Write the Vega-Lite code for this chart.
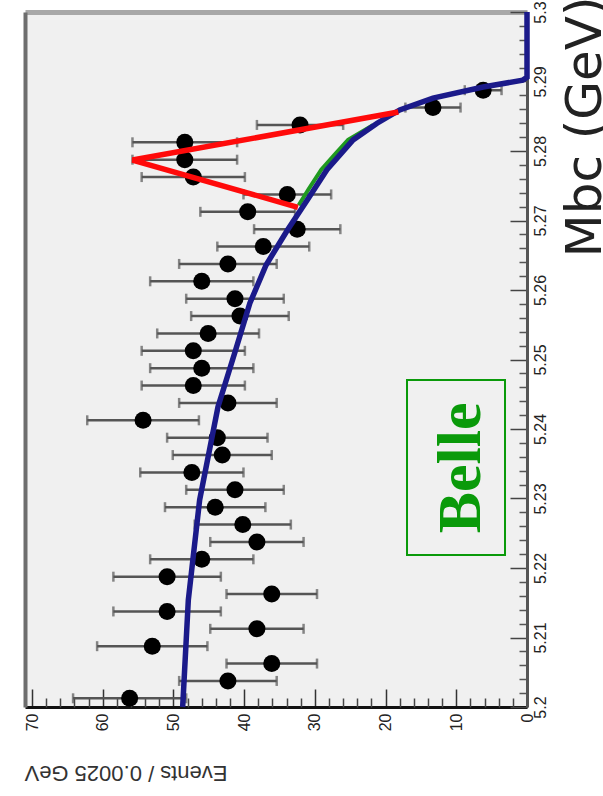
{
  "$schema": "https://vega.github.io/schema/vega-lite/v6.json",
  "width": 502,
  "height": 695,
  "autosize": {"type": "none"},
  "padding": {"left": 25, "top": 12, "right": 76, "bottom": 89},
  "background": "#ffffff",
  "config": {
    "view": {"stroke": null, "fill": "#f0f0f0"},
    "axis": {"labelFont": "Liberation Sans", "titleFont": "Liberation Sans", "grid": false}
  },
  "datasets": {
    "bins": [
      {"m": 5.20125, "n": 56.2, "err": 8.0},
      {"m": 5.20375, "n": 42.3, "err": 6.9},
      {"m": 5.20625, "n": 36.1, "err": 6.4},
      {"m": 5.20875, "n": 53.0, "err": 7.8},
      {"m": 5.21125, "n": 38.2, "err": 6.6},
      {"m": 5.21375, "n": 50.9, "err": 7.6},
      {"m": 5.21625, "n": 36.1, "err": 6.4},
      {"m": 5.21875, "n": 50.9, "err": 7.6},
      {"m": 5.22125, "n": 46.0, "err": 7.3},
      {"m": 5.22375, "n": 38.2, "err": 6.6},
      {"m": 5.22625, "n": 40.2, "err": 6.8},
      {"m": 5.22875, "n": 44.1, "err": 7.1},
      {"m": 5.23125, "n": 41.3, "err": 6.9},
      {"m": 5.23375, "n": 47.4, "err": 7.3},
      {"m": 5.23625, "n": 43.1, "err": 7.0},
      {"m": 5.23875, "n": 43.8, "err": 7.1},
      {"m": 5.24125, "n": 54.3, "err": 7.9},
      {"m": 5.24375, "n": 42.3, "err": 6.9},
      {"m": 5.24625, "n": 47.2, "err": 7.3},
      {"m": 5.24875, "n": 46.0, "err": 7.3},
      {"m": 5.25125, "n": 47.2, "err": 7.3},
      {"m": 5.25375, "n": 45.1, "err": 7.2},
      {"m": 5.25625, "n": 40.6, "err": 6.9},
      {"m": 5.25875, "n": 41.3, "err": 6.9},
      {"m": 5.26125, "n": 46.0, "err": 7.3},
      {"m": 5.26375, "n": 42.3, "err": 6.9},
      {"m": 5.26625, "n": 37.3, "err": 6.5},
      {"m": 5.26875, "n": 32.5, "err": 6.1},
      {"m": 5.27125, "n": 39.5, "err": 6.7},
      {"m": 5.27375, "n": 33.9, "err": 6.2},
      {"m": 5.27625, "n": 47.2, "err": 7.3},
      {"m": 5.27875, "n": 48.4, "err": 7.4},
      {"m": 5.28125, "n": 48.4, "err": 7.4},
      {"m": 5.28375, "n": 32.1, "err": 6.1},
      {"m": 5.28625, "n": 13.3, "err": 3.9},
      {"m": 5.28875, "n": 6.2, "err": 2.6}
    ],
    "background": [
      {"m": 5.2, "n": 48.7},
      {"m": 5.2154, "n": 47.9},
      {"m": 5.2298, "n": 46.3},
      {"m": 5.2432, "n": 43.7},
      {"m": 5.2514, "n": 41.2},
      {"m": 5.2581, "n": 39.2},
      {"m": 5.2636, "n": 36.9},
      {"m": 5.2686, "n": 33.9},
      {"m": 5.2729, "n": 31.1},
      {"m": 5.2773, "n": 28.3},
      {"m": 5.2816, "n": 24.6},
      {"m": 5.284, "n": 21.2},
      {"m": 5.2859, "n": 18.0},
      {"m": 5.2876, "n": 13.3},
      {"m": 5.2892, "n": 6.2},
      {"m": 5.2902, "n": 0.6},
      {"m": 5.2906, "n": 0},
      {"m": 5.3, "n": 0}
    ],
    "peaking": [
      {"m": 5.2722, "n": 32.3},
      {"m": 5.2745, "n": 30.9},
      {"m": 5.2773, "n": 29.1},
      {"m": 5.2795, "n": 27.2},
      {"m": 5.2816, "n": 25.3},
      {"m": 5.2837, "n": 21.8}
    ],
    "total": [
      {"m": 5.2719, "n": 32.4},
      {"m": 5.2787, "n": 55.8},
      {"m": 5.2856, "n": 18.2}
    ]
  },
  "layer": [
    {
      "data": {"name": "bins"},
      "mark": {"type": "errorbar", "color": "#555555", "thickness": 2.5, "ticks": {"size": 10, "thickness": 2.5}},
      "encoding": {
        "x": {
          "field": "n", "type": "quantitative",
          "scale": {"domain": [0, 71], "reverse": true, "nice": false, "zero": false},
          "axis": {
            "orient": "bottom",
            "values": [0, 10, 20, 30, 40, 50, 60, 70],
            "labelAngle": -90, "labelAlign": "right", "labelBaseline": "middle",
            "labelFontSize": 16, "labelColor": "#222222", "labelPadding": 24,
            "tickSize": -18, "tickColor": "#333333", "tickWidth": 1.5,
            "domainColor": "#111111", "domainWidth": 3,
            "title": "Events / 0.0025 GeV",
            "titleAngle": 180, "titleAlign": "left", "titleBaseline": "alphabetic",
            "titleX": 202, "titleY": 58,
            "titleFontSize": 22, "titleFontWeight": "normal", "titleColor": "#333333"
          }
        },
        "xError": {"field": "err"},
        "y": {
          "field": "m", "type": "quantitative",
          "scale": {"domain": [5.2, 5.3], "nice": false, "zero": false},
          "axis": {
            "orient": "right",
            "values": [5.2, 5.21, 5.22, 5.23, 5.24, 5.25, 5.26, 5.27, 5.28, 5.29, 5.3],
            "format": ".2~f",
            "labelAngle": -90, "labelAlign": "center", "labelBaseline": "top",
            "labelFontSize": 16, "labelColor": "#222222", "labelPadding": 22,
            "tickSize": -17, "tickColor": "#444444", "tickWidth": 1.5,
            "domainColor": "#555555", "domainWidth": 3,
            "title": "Mbc (GeV)",
            "titleFont": "DejaVu Sans",
            "titleAngle": -90, "titleAlign": "left", "titleBaseline": "alphabetic",
            "titleX": 73, "titleY": 245,
            "titleFontSize": 50, "titleFontWeight": "normal", "titleColor": "#222222"
          }
        }
      }
    },
    {
      "data": {"name": "bins"},
      "mark": {"type": "point", "filled": true, "shape": "circle", "size": 290, "color": "#000000", "opacity": 1},
      "encoding": {
        "x": {
          "field": "n", "type": "quantitative",
          "scale": {"domain": [0, 71], "reverse": true, "nice": false, "zero": false},
          "axis": {
            "orient": "bottom",
            "values": [2, 4, 6, 8, 12, 14, 16, 18, 22, 24, 26, 28, 32, 34, 36, 38, 42, 44, 46, 48, 52, 54, 56, 58, 62, 64, 66, 68],
            "labels": false, "domain": false, "title": null,
            "tickSize": -9, "tickColor": "#444444", "tickWidth": 1.5
          }
        },
        "y": {
          "field": "m", "type": "quantitative",
          "scale": {"domain": [5.2, 5.3], "nice": false, "zero": false},
          "axis": {
            "orient": "right",
            "values": [5.202, 5.204, 5.206, 5.208, 5.212, 5.214, 5.216, 5.218, 5.222, 5.224, 5.226, 5.228, 5.232, 5.234, 5.236, 5.238, 5.242, 5.244, 5.246, 5.248, 5.252, 5.254, 5.256, 5.258, 5.262, 5.264, 5.266, 5.268, 5.272, 5.274, 5.276, 5.278, 5.282, 5.284, 5.286, 5.288, 5.292, 5.294, 5.296, 5.298],
            "labels": false, "domain": false, "title": null,
            "tickSize": -8, "tickColor": "#555555", "tickWidth": 1.5
          }
        }
      }
    },
    {
      "data": {"name": "peaking"},
      "mark": {"type": "line", "color": "#1f9a1f", "strokeWidth": 4},
      "encoding": {
        "x": {
          "field": "n", "type": "quantitative",
          "scale": {"domain": [0, 71], "reverse": true, "nice": false, "zero": false},
          "axis": {"orient": "top", "labels": false, "ticks": false, "title": null, "domainColor": "#a8a8a8", "domainWidth": 5}
        },
        "y": {
          "field": "m", "type": "quantitative",
          "scale": {"domain": [5.2, 5.3], "nice": false, "zero": false},
          "axis": {"orient": "left", "labels": false, "ticks": false, "title": null, "domainColor": "#6e6e6e", "domainWidth": 4}
        },
        "order": {"field": "m"}
      }
    },
    {
      "data": {"name": "background"},
      "mark": {"type": "line", "color": "#1b1a8a", "strokeWidth": 5.5},
      "encoding": {
        "x": {"field": "n", "type": "quantitative", "scale": {"domain": [0, 71], "reverse": true, "nice": false, "zero": false}, "axis": null},
        "y": {"field": "m", "type": "quantitative", "scale": {"domain": [5.2, 5.3], "nice": false, "zero": false}, "axis": null},
        "order": {"field": "m"}
      }
    },
    {
      "data": {"name": "total"},
      "mark": {"type": "line", "color": "#ff0a0a", "strokeWidth": 5.5, "strokeJoin": "miter"},
      "encoding": {
        "x": {"field": "n", "type": "quantitative", "scale": {"domain": [0, 71], "reverse": true, "nice": false, "zero": false}, "axis": null},
        "y": {"field": "m", "type": "quantitative", "scale": {"domain": [5.2, 5.3], "nice": false, "zero": false}, "axis": null},
        "order": {"field": "m"}
      }
    },
    {
      "data": {"values": [{}]},
      "mark": {"type": "rect", "fillOpacity": 0, "stroke": "#0a9a0a", "strokeWidth": 2},
      "encoding": {
        "x": {"datum": 16.97, "type": "quantitative", "scale": {"domain": [0, 71], "reverse": true, "nice": false, "zero": false}, "axis": null},
        "x2": {"datum": 3.11},
        "y": {"datum": 5.24705, "type": "quantitative", "scale": {"domain": [5.2, 5.3], "nice": false, "zero": false}, "axis": null},
        "y2": {"datum": 5.22187}
      }
    },
    {
      "data": {"values": [{}]},
      "mark": {"type": "text", "text": "Belle", "angle": 270, "font": "Liberation Serif", "fontWeight": "bold", "fontSize": 62, "color": "#0a9a0a", "align": "center", "baseline": "alphabetic"},
      "encoding": {
        "x": {"datum": 6.65, "type": "quantitative", "scale": {"domain": [0, 71], "reverse": true, "nice": false, "zero": false}, "axis": null},
        "y": {"datum": 5.2344, "type": "quantitative", "scale": {"domain": [5.2, 5.3], "nice": false, "zero": false}, "axis": null}
      }
    }
  ],
  "resolve": {"axis": {"x": "independent", "y": "independent"}}
}
